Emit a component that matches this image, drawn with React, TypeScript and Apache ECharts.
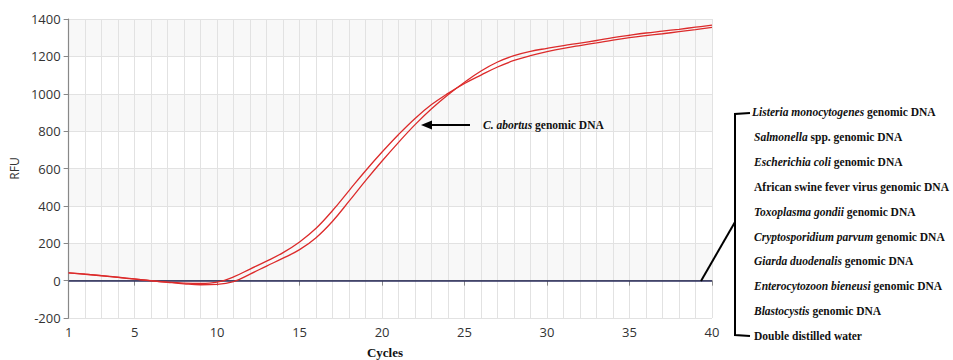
import React, { useEffect, useRef } from "react";
import * as echarts from "echarts";

const cycles = [
  "1","2","3","4","5","6","7","8","9","10",
  "11","12","13","14","15","16","17","18","19","20",
  "21","22","23","24","25","26","27","28","29","30",
  "31","32","33","34","35","36","37","38","39","40",
];

const rfuA = [
  42, 34, 26, 17, 8, -1, -8, -13, -15, -8,
  20, 62, 104, 150, 207, 280, 375, 482, 588, 688,
  782, 868, 942, 1002, 1055, 1100, 1143, 1178, 1204, 1225,
  1243, 1258, 1272, 1287, 1300, 1311, 1321, 1332, 1343, 1355,
];

const rfuB = [
  42, 35, 27, 18, 9, 0, -9, -17, -22, -20,
  -5, 35, 78, 120, 166, 230, 318, 425, 535, 640,
  740, 835, 920, 995, 1062, 1122, 1170, 1204, 1227, 1243,
  1258, 1271, 1285, 1300, 1313, 1325, 1335, 1345, 1356, 1367,
];

const threshold = 0;

const yTicks = { min: -200, max: 1400, interval: 200 };

const samples = [
  "{i|Listeria monocytogenes} genomic DNA",
  "{i|Salmonella} spp. genomic DNA",
  "{i|Escherichia coli} genomic DNA",
  "African swine fever virus genomic DNA",
  "{i|Toxoplasma gondii} genomic DNA",
  "{i|Cryptosporidium parvum} genomic DNA",
  "{i|Giarda duodenalis} genomic DNA",
  "{i|Enterocytozoon bieneusi} genomic DNA",
  "{i|Blastocystis} genomic DNA",
  "Double distilled water",
];

const annotation = "{i|C. abortus} genomic DNA";

const SERIF = "'Liberation Serif', 'Times New Roman', serif";
const SANS = "'Open Sans', 'Noto Sans', sans-serif";

export default function App() {
  const ref = useRef<HTMLDivElement>(null);

  useEffect(() => {
    if (!ref.current) return;
    const chart = echarts.init(ref.current, undefined, { renderer: "svg" });
    const showLabel = (_i: number, v: string) => v === "1" || Number(v) % 5 === 0;
    const red = "#dc2b2b";
    const richItalic = {
      i: { fontStyle: "italic", fontWeight: "bold", fontFamily: SERIF, fontSize: 11.5, fill: "#111" },
    };

    const legendTexts = samples.map((s, k) => ({
      type: "text",
      z: 100,
      x: k === 0 ? 752 : 754,
      y: 112 + k * 24.9,
      style: {
        text: s,
        rich: richItalic,
        fontFamily: SERIF,
        fontWeight: "bold",
        fontSize: 11.5,
        fill: "#111",
        verticalAlign: "middle",
        align: "left",
      },
    }));

    chart.setOption({
      animation: false,
      grid: { left: 68, right: 241, top: 19, bottom: 42, containLabel: false },
      xAxis: {
        type: "category",
        data: cycles,
        boundaryGap: false,
        axisLine: { lineStyle: { color: "#888", width: 1.2 } },
        axisTick: { show: true, interval: showLabel, length: 5, lineStyle: { color: "#888" } },
        axisLabel: {
          interval: showLabel,
          color: "#333",
          fontFamily: SANS,
          fontSize: 13,
          margin: 7,
        },
        splitLine: { show: true, interval: 0, lineStyle: { color: "#e2e2e2", width: 1 } },
      },
      yAxis: {
        type: "value",
        min: yTicks.min,
        max: yTicks.max,
        interval: yTicks.interval,
        name: "RFU",
        nameLocation: "middle",
        nameGap: 47,
        nameRotate: 90,
        nameTextStyle: { color: "#333", fontFamily: SANS, fontSize: 12 },
        axisLine: { show: true, lineStyle: { color: "#888", width: 1.2 } },
        axisTick: { show: true, length: 5, lineStyle: { color: "#888" } },
        axisLabel: {
          color: "#333",
          fontFamily: SANS,
          fontSize: 13,
          margin: 8,
          formatter: (v: number) => String(v),
        },
        splitLine: { show: true, lineStyle: { color: "#e2e2e2", width: 1 } },
        splitArea: { show: true, areaStyle: { color: ["#ffffff", "#f8f8f8"] } },
      },
      series: [
        {
          type: "line",
          data: rfuA,
          smooth: 0.4,
          symbol: "none",
          lineStyle: { color: red, width: 1.3 },
          z: 3,
          markLine: {
            silent: true,
            symbol: "none",
            label: { show: false },
            lineStyle: { color: "#2c2f5e", width: 1.5, type: "solid" },
            data: [{ yAxis: threshold }],
            z: 2,
          },
        },
        {
          type: "line",
          data: rfuB,
          smooth: 0.4,
          symbol: "none",
          lineStyle: { color: red, width: 1.3 },
          z: 3,
        },
      ],
      graphic: [
        {
          type: "line",
          z: 100,
          shape: { x1: 470, y1: 125, x2: 428, y2: 125 },
          style: { stroke: "#000", lineWidth: 2 },
        },
        {
          type: "polygon",
          z: 100,
          shape: { points: [[421, 125], [432, 120.5], [432, 129.5]] },
          style: { fill: "#000" },
        },
        {
          type: "text",
          z: 100,
          x: 483,
          y: 125,
          style: {
            text: annotation,
            rich: richItalic,
            fontFamily: SERIF,
            fontWeight: "bold",
            fontSize: 11.5,
            fill: "#111",
            verticalAlign: "middle",
            align: "left",
          },
        },
        {
          type: "polyline",
          z: 100,
          shape: { points: [[750, 113], [735, 114], [735, 335], [750, 336]] },
          style: { stroke: "#000", lineWidth: 2, fill: null },
        },
        {
          type: "line",
          z: 100,
          shape: { x1: 701, y1: 281, x2: 735, y2: 222 },
          style: { stroke: "#000", lineWidth: 2 },
        },
        {
          type: "text",
          z: 100,
          x: 385,
          y: 352,
          style: {
            text: "Cycles",
            fontFamily: SERIF,
            fontWeight: "bold",
            fontSize: 13,
            fill: "#111",
            align: "center",
            verticalAlign: "middle",
          },
        },
        ...legendTexts,
      ],
    });
    return () => chart.dispose();
  }, []);

  return (
    <div
      ref={ref}
      style={{ position: "fixed", left: 0, top: 0, width: 953, height: 360, background: "#fff" }}
    />
  );
}
